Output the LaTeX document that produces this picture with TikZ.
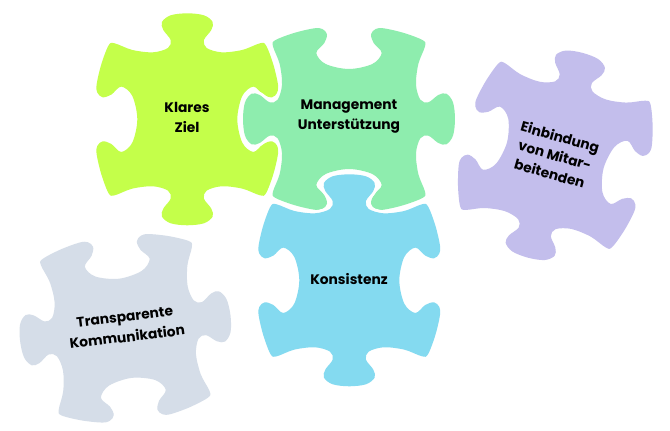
\documentclass[tikz,border=0pt]{standalone}
\usepackage{fontspec}
\setmainfont{Poppins}
\definecolor{cKlares}{HTML}{C4FF4A}
\definecolor{cMgmt}{HTML}{8EEDAE}
\definecolor{cKons}{HTML}{84DAF0}
\definecolor{cEinb}{HTML}{C3BEEC}
\definecolor{cTrans}{HTML}{D5DDE8}
\newcommand{\pieceshape}{plot[smooth cycle,tension=0.55] coordinates {
(0,318)(50,312)(76,292)(72,268)(50,238)(58,214)(103,201)(165,208)(218,228)(236,222)(258,165)(272,105)(270,80)(254,66)(228,74)(198,98)(165,70)(150,0)
(165,-70)(198,-98)(228,-74)(254,-66)(270,-80)(272,-105)(258,-165)(236,-222)(218,-228)(165,-208)(103,-201)(58,-214)(50,-238)(72,-268)(76,-292)(50,-312)(0,-318)
(-50,-312)(-76,-292)(-72,-268)(-50,-238)(-58,-214)(-103,-201)(-165,-208)(-218,-228)(-236,-222)(-258,-165)(-272,-105)(-270,-80)(-254,-66)(-228,-74)(-198,-98)(-165,-70)(-150,0)
(-165,70)(-198,98)(-228,74)(-254,66)(-270,80)(-272,105)(-258,165)(-236,222)(-218,228)(-165,208)(-103,201)(-58,214)(-50,238)(-72,268)(-76,292)(-50,312)}}
\tikzset{
  x=1pt,y=1pt,
  piecefill/.style={line join=round},
  halo/.style={draw=white,fill=white,line width=6pt,line join=round},
  label/.style={align=center,font=\fontsize{13.8}{20.5}\selectfont\bfseries,text=black,inner sep=0pt},
}
\begin{document}
\begin{tikzpicture}
\useasboundingbox (0,0) rectangle (670,431);
\fill[white] (0,0) rectangle (670,431);
% Einbindung
\fill[piecefill,cEinb,shift={(555.3,275.7)},rotate=-15,scale=0.3333] \pieceshape;
% Transparente
\fill[piecefill,cTrans,shift={(125.3,102.7)},rotate=97,scale=0.3333] \pieceshape;
% Klares
\fill[piecefill,cKlares,shift={(187.3,311.7)},scale=0.3333] \pieceshape;
% Management
\path[halo,shift={(349,312)},rotate=90,scale=0.3333] \pieceshape;
\fill[piecefill,cMgmt,shift={(349,312)},rotate=90,scale=0.3333] \pieceshape;
% Konsistenz
\path[halo,shift={(349.3,150.7)},scale=0.3333] \pieceshape;
\fill[piecefill,cKons,shift={(349.3,150.7)},scale=0.3333] \pieceshape;
\node[label] (klares) at (187,313.5) {Klares\\Ziel};
\node[label] (mgmt) at (349,314.5) {Management\\Unterstützung};
\node[label] (kons) at (349,152) {Konsistenz};
\node[label,rotate=-16,font=\fontsize{13.8}{19}\selectfont\bfseries] (einb) at (555,276) {Einbindung\\von Mitar-\\beitenden};
\node[label,rotate=7] (trans) at (126,104) {Transparente\\Kommunikation};
\end{tikzpicture}
\end{document}
